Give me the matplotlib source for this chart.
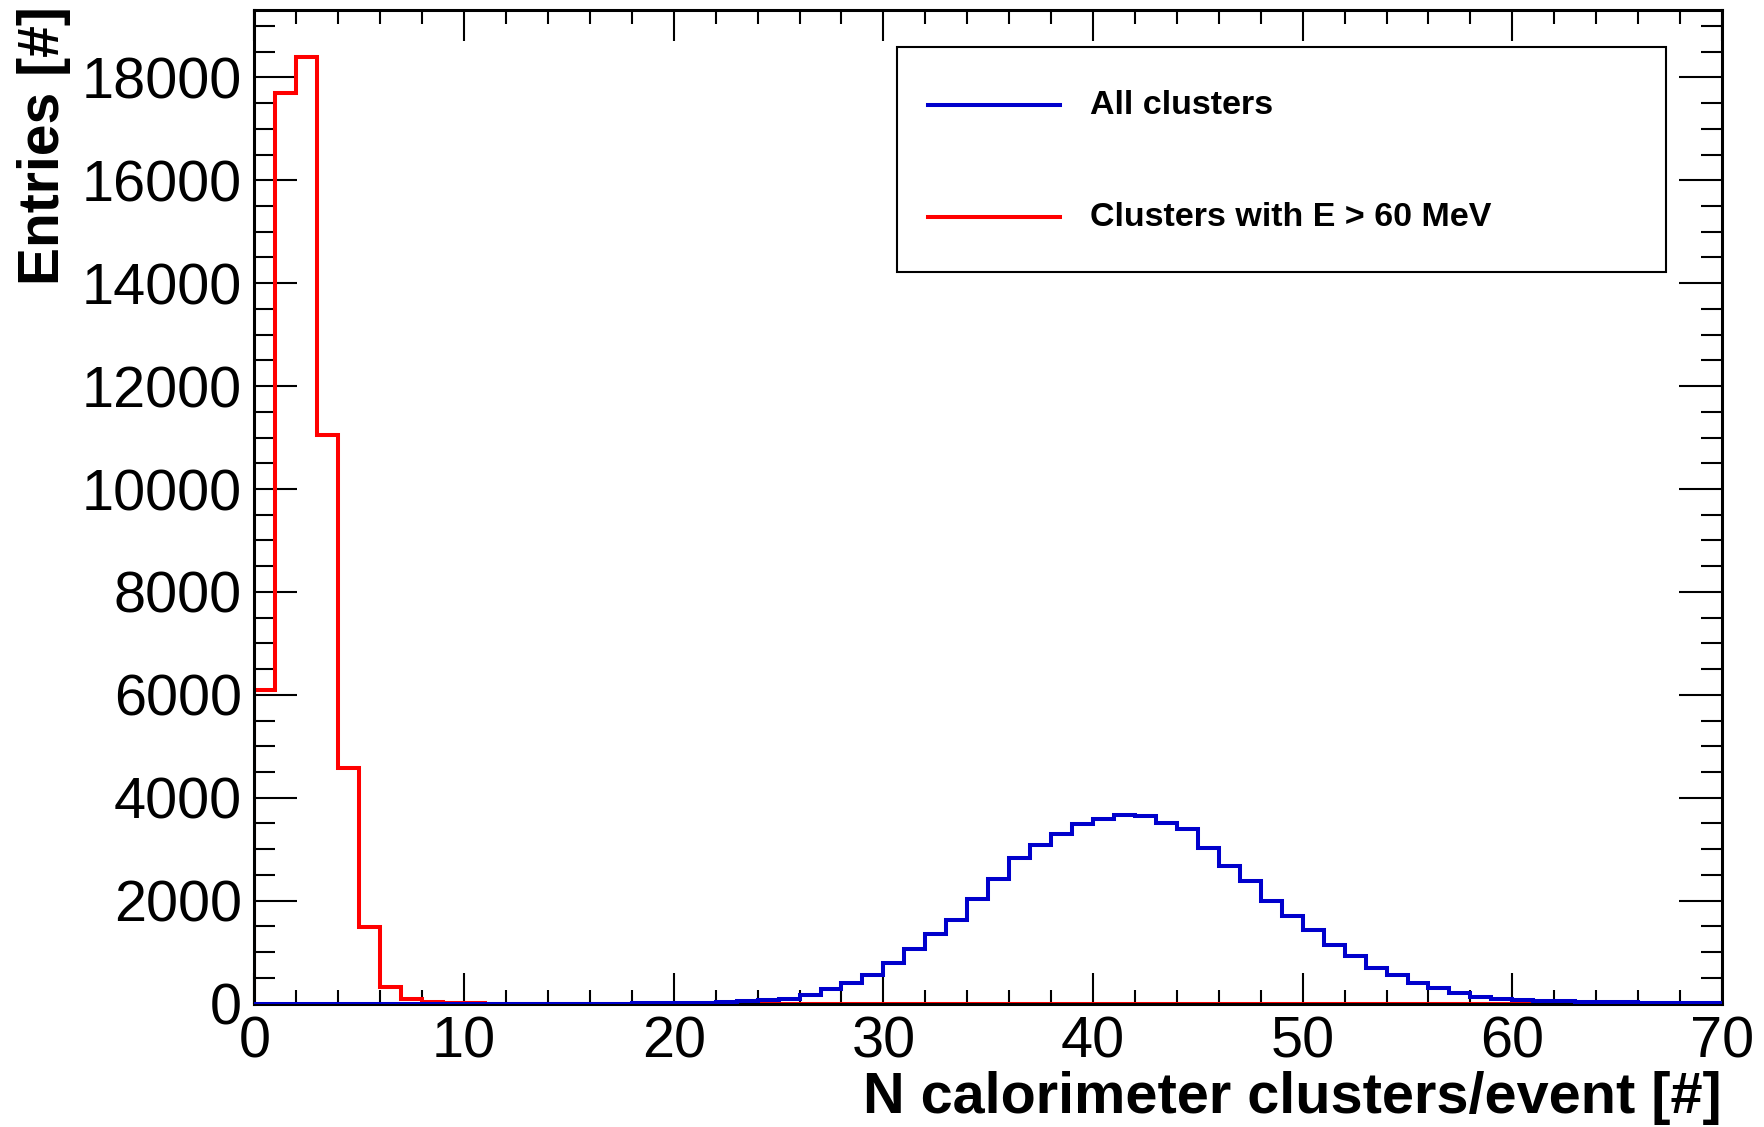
import numpy as np
import matplotlib
matplotlib.use("Agg")
import matplotlib.pyplot as plt
from matplotlib.lines import Line2D
from matplotlib.patches import Rectangle
from matplotlib.ticker import MultipleLocator

# Number of calorimeter clusters per event, one bin per integer count (0..70)
bin_edges = np.arange(0, 71)

# Clusters with E > 60 MeV
counts_high_energy = [6100, 17700, 18400, 11050, 4570, 1480, 330, 90, 25, 8,
                      3] + [0] * 59

# All clusters
counts_all = [0] * 18 + [
    3, 5, 8, 12, 25, 45, 65, 97, 174, 277,
    393, 548, 780, 1051, 1348, 1625, 2038, 2425, 2819, 3077,
    3290, 3496, 3580, 3670, 3651, 3502, 3386, 3032, 2677, 2374,
    1987, 1709, 1438, 1141, 929, 690, 548, 406, 297, 213,
    129, 90, 64, 45, 40, 35, 30, 25, 15, 12,
    10, 8]

series_labels = ["All clusters", "Clusters with E > 60 MeV"]
series_colors = ["#0000cc", "#ff0000"]

x_label = "N calorimeter clusters/event [#]"
y_label = "Entries [#]"

plt.rcParams["font.family"] = ["Liberation Sans", "DejaVu Sans"]

W, H = 1765, 1127
fig = plt.figure(figsize=(W / 100, H / 100), dpi=100)
ax_left, ax_right, ax_top, ax_bottom = 254.5, 1722, 9.5, 1003.5
ax = fig.add_axes([ax_left / W, 1 - ax_bottom / H,
                   (ax_right - ax_left) / W, (ax_bottom - ax_top) / H])

ax.stairs(counts_high_energy, bin_edges, baseline=0, color=series_colors[1],
          linewidth=2.9, zorder=2)
ax.stairs(counts_all, bin_edges, baseline=0, color=series_colors[0],
          linewidth=2.9, zorder=3)

ax.set_xlim(0, 70)
ax.set_ylim(0, 1.05 * max(counts_high_energy))

ax.xaxis.set_major_locator(MultipleLocator(10))
ax.xaxis.set_minor_locator(MultipleLocator(2))
ax.yaxis.set_major_locator(MultipleLocator(2000))
ax.yaxis.set_minor_locator(MultipleLocator(500))

ax.tick_params(axis="both", which="both", direction="in",
               top=True, right=True, width=1.5, labelsize=41.5)
ax.tick_params(axis="x", which="major", length=22, pad=9)
ax.tick_params(axis="x", which="minor", length=10)
ax.tick_params(axis="y", which="major", length=31, pad=9)
ax.tick_params(axis="y", which="minor", length=15)
for sp in ax.spines.values():
    sp.set_linewidth(2.2)

fig.text(ax_right / W, 1 - 1113 / H, x_label, ha="right", va="baseline",
         fontsize=41.5, fontweight="bold")
fig.text(44 / W, 1 - 6 / H, y_label, ha="center", va="top", rotation=90,
         fontsize=41, fontweight="bold")

# Legend box
lx0, lx1, ly0, ly1 = 897, 1666, 47, 272
fig.patches.append(Rectangle((lx0 / W, 1 - ly1 / H), (lx1 - lx0) / W,
                             (ly1 - ly0) / H, transform=fig.transFigure,
                             fill=False, edgecolor="black", linewidth=1.5,
                             zorder=5))
for label, color, yy in zip(series_labels, series_colors, [105, 217]):
    fig.lines.append(Line2D([928 / W, 1060 / W], [1 - yy / H, 1 - yy / H],
                            transform=fig.transFigure, color=color,
                            linewidth=2.9, zorder=6))
    fig.text(1090 / W, 1 - yy / H, label, ha="left", va="center",
             fontsize=24.5, fontweight="bold", zorder=6)

fig.savefig("out.png", dpi=100)
